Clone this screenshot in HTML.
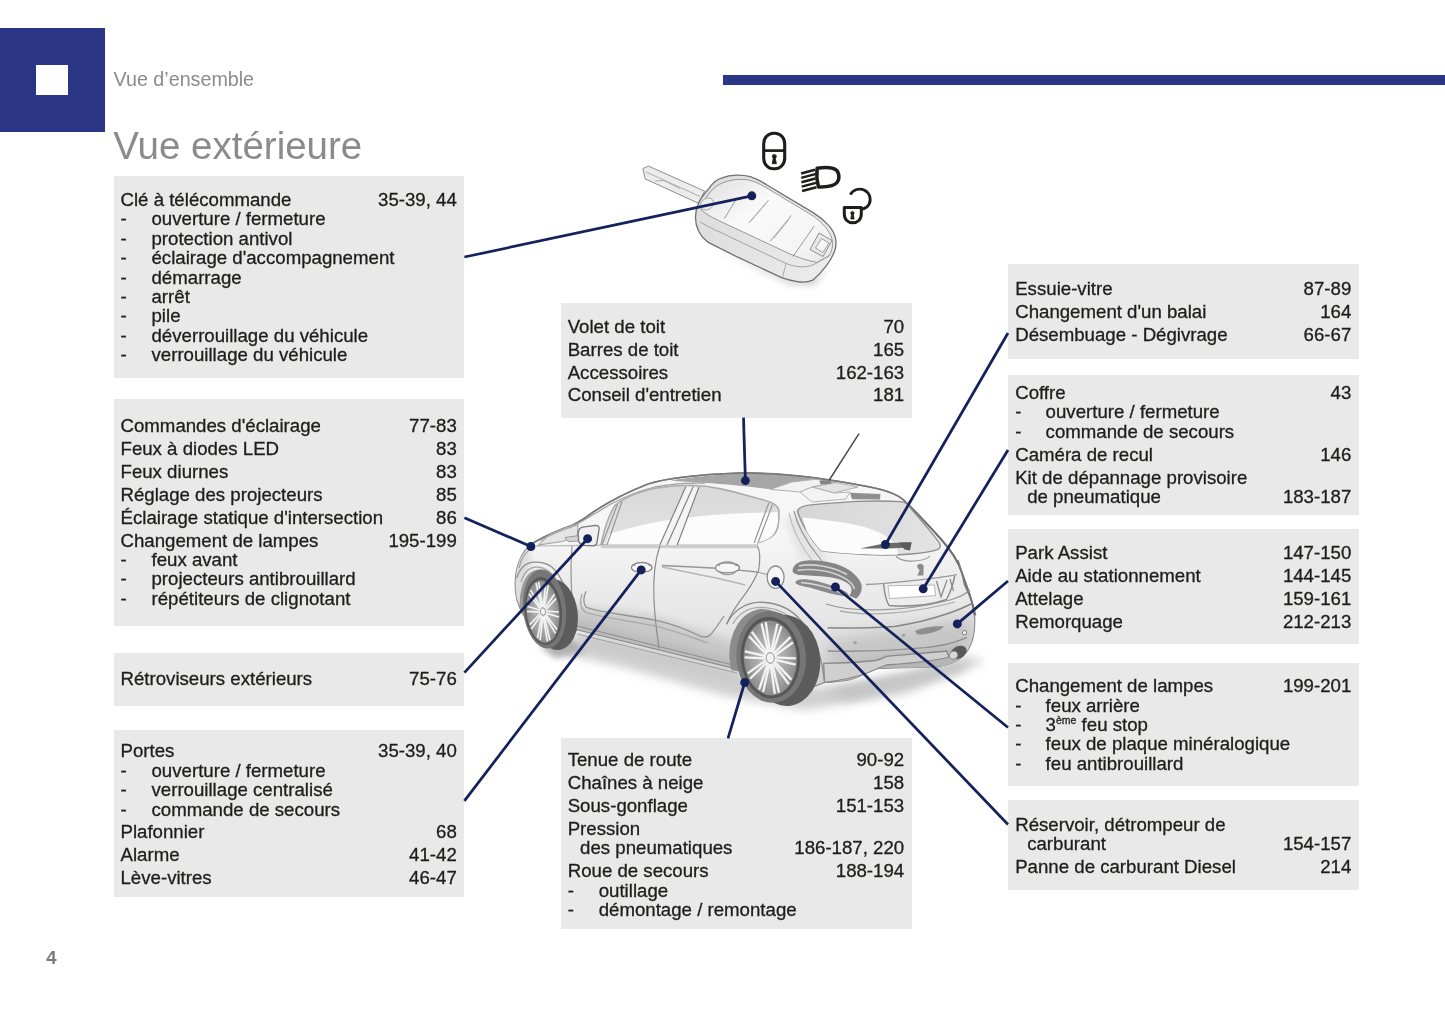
<!DOCTYPE html>
<html lang="fr"><head><meta charset="utf-8"><title>Vue extérieure</title>
<style>
html,body{margin:0;padding:0;background:#fff;}
body{width:1445px;height:1026px;position:relative;overflow:hidden;font-family:"Liberation Sans",sans-serif;}
.b{position:absolute;background:#e9e9e9;}
.t{position:absolute;font-size:18.65px;line-height:20.0px;height:20.0px;color:#1d1d1b;white-space:nowrap;-webkit-text-stroke:0.3px #1d1d1b;}
.r{text-align:right;}
sup{font-size:10.5px;line-height:0;vertical-align:baseline;position:relative;top:-6.5px;}
#art{position:absolute;left:0;top:0;}
#pg{position:absolute;left:0;top:0;width:1445px;height:1026px;will-change:transform;}
</style></head><body><div id="pg">
<div style="position:absolute;left:0;top:27.6px;width:104.7px;height:104.8px;background:#2b3786;"></div>
<div style="position:absolute;left:36px;top:64.5px;width:32.4px;height:30.5px;background:#fff;"></div>
<div style="position:absolute;left:722.6px;top:74.8px;width:723px;height:10.3px;background:#2b3786;"></div>
<div style="position:absolute;left:113.6px;top:66.9px;font-size:19.7px;line-height:24px;color:#8b8b8b;white-space:nowrap;">Vue d’ensemble</div>
<div style="position:absolute;left:113.3px;top:123.2px;font-size:38.5px;line-height:46px;color:#8b8b8b;white-space:nowrap;">Vue extérieure</div>
<div style="position:absolute;left:46.3px;top:946.5px;font-size:18.5px;line-height:22px;font-weight:bold;color:#7a7a7a;">4</div>
<div class="b" style="left:113.8px;top:176.3px;width:350.6px;height:201.9px"></div>
<div class="b" style="left:113.8px;top:399.2px;width:350.6px;height:226.7px"></div>
<div class="b" style="left:113.8px;top:652.8px;width:350.6px;height:53.0px"></div>
<div class="b" style="left:113.8px;top:729.6px;width:350.6px;height:167.3px"></div>
<div class="b" style="left:561.0px;top:303.3px;width:350.5px;height:114.3px"></div>
<div class="b" style="left:561.0px;top:738.3px;width:350.5px;height:190.7px"></div>
<div class="b" style="left:1008.0px;top:264.4px;width:350.5px;height:94.7px"></div>
<div class="b" style="left:1008.0px;top:375.1px;width:350.5px;height:139.5px"></div>
<div class="b" style="left:1008.0px;top:529.3px;width:350.5px;height:114.4px"></div>
<div class="b" style="left:1008.0px;top:662.6px;width:350.5px;height:123.3px"></div>
<div class="b" style="left:1008.0px;top:800.4px;width:350.5px;height:89.2px"></div>
<div class="t" style="left:120.5px;top:189.99px">Clé à télécommande</div>
<div class="t r" style="left:256.8px;width:200px;top:189.99px">35-39, 44</div>
<div class="t" style="left:120.5px;top:209.39px">-</div>
<div class="t" style="left:151.5px;top:209.39px">ouverture / fermeture</div>
<div class="t" style="left:120.5px;top:228.79px">-</div>
<div class="t" style="left:151.5px;top:228.79px">protection antivol</div>
<div class="t" style="left:120.5px;top:248.19px">-</div>
<div class="t" style="left:151.5px;top:248.19px">éclairage d'accompagnement</div>
<div class="t" style="left:120.5px;top:267.59px">-</div>
<div class="t" style="left:151.5px;top:267.59px">démarrage</div>
<div class="t" style="left:120.5px;top:286.99px">-</div>
<div class="t" style="left:151.5px;top:286.99px">arrêt</div>
<div class="t" style="left:120.5px;top:306.39px">-</div>
<div class="t" style="left:151.5px;top:306.39px">pile</div>
<div class="t" style="left:120.5px;top:325.79px">-</div>
<div class="t" style="left:151.5px;top:325.79px">déverrouillage du véhicule</div>
<div class="t" style="left:120.5px;top:345.19px">-</div>
<div class="t" style="left:151.5px;top:345.19px">verrouillage du véhicule</div>
<div class="t" style="left:120.5px;top:416.19px">Commandes d'éclairage</div>
<div class="t r" style="left:256.8px;width:200px;top:416.19px">77-83</div>
<div class="t" style="left:120.5px;top:439.09px">Feux à diodes LED</div>
<div class="t r" style="left:256.8px;width:200px;top:439.09px">83</div>
<div class="t" style="left:120.5px;top:461.99px">Feux diurnes</div>
<div class="t r" style="left:256.8px;width:200px;top:461.99px">83</div>
<div class="t" style="left:120.5px;top:484.89px">Réglage des projecteurs</div>
<div class="t r" style="left:256.8px;width:200px;top:484.89px">85</div>
<div class="t" style="left:120.5px;top:507.79px">Éclairage statique d'intersection</div>
<div class="t r" style="left:256.8px;width:200px;top:507.79px">86</div>
<div class="t" style="left:120.5px;top:530.69px">Changement de lampes</div>
<div class="t r" style="left:256.8px;width:200px;top:530.69px">195-199</div>
<div class="t" style="left:120.5px;top:550.09px">-</div>
<div class="t" style="left:151.5px;top:550.09px">feux avant</div>
<div class="t" style="left:120.5px;top:569.49px">-</div>
<div class="t" style="left:151.5px;top:569.49px">projecteurs antibrouillard</div>
<div class="t" style="left:120.5px;top:588.89px">-</div>
<div class="t" style="left:151.5px;top:588.89px">répétiteurs de clignotant</div>
<div class="t" style="left:120.5px;top:668.99px">Rétroviseurs extérieurs</div>
<div class="t r" style="left:256.8px;width:200px;top:668.99px">75-76</div>
<div class="t" style="left:120.5px;top:741.09px">Portes</div>
<div class="t r" style="left:256.8px;width:200px;top:741.09px">35-39, 40</div>
<div class="t" style="left:120.5px;top:760.59px">-</div>
<div class="t" style="left:151.5px;top:760.59px">ouverture / fermeture</div>
<div class="t" style="left:120.5px;top:780.09px">-</div>
<div class="t" style="left:151.5px;top:780.09px">verrouillage centralisé</div>
<div class="t" style="left:120.5px;top:799.59px">-</div>
<div class="t" style="left:151.5px;top:799.59px">commande de secours</div>
<div class="t" style="left:120.5px;top:822.39px">Plafonnier</div>
<div class="t r" style="left:256.8px;width:200px;top:822.39px">68</div>
<div class="t" style="left:120.5px;top:845.29px">Alarme</div>
<div class="t r" style="left:256.8px;width:200px;top:845.29px">41-42</div>
<div class="t" style="left:120.5px;top:868.19px">Lève-vitres</div>
<div class="t r" style="left:256.8px;width:200px;top:868.19px">46-47</div>
<div class="t" style="left:567.7px;top:316.79px">Volet de toit</div>
<div class="t r" style="left:704.2px;width:200px;top:316.79px">70</div>
<div class="t" style="left:567.7px;top:339.69px">Barres de toit</div>
<div class="t r" style="left:704.2px;width:200px;top:339.69px">165</div>
<div class="t" style="left:567.7px;top:362.59px">Accessoires</div>
<div class="t r" style="left:704.2px;width:200px;top:362.59px">162-163</div>
<div class="t" style="left:567.7px;top:385.49px">Conseil d'entretien</div>
<div class="t r" style="left:704.2px;width:200px;top:385.49px">181</div>
<div class="t" style="left:567.7px;top:750.39px">Tenue de route</div>
<div class="t r" style="left:704.2px;width:200px;top:750.39px">90-92</div>
<div class="t" style="left:567.7px;top:773.19px">Chaînes à neige</div>
<div class="t r" style="left:704.2px;width:200px;top:773.19px">158</div>
<div class="t" style="left:567.7px;top:795.99px">Sous-gonflage</div>
<div class="t r" style="left:704.2px;width:200px;top:795.99px">151-153</div>
<div class="t" style="left:567.7px;top:818.59px">Pression</div>
<div class="t" style="left:580.1px;top:838.19px">des pneumatiques</div>
<div class="t r" style="left:704.2px;width:200px;top:838.19px">186-187, 220</div>
<div class="t" style="left:567.7px;top:861.19px">Roue de secours</div>
<div class="t r" style="left:704.2px;width:200px;top:861.19px">188-194</div>
<div class="t" style="left:567.7px;top:880.69px">-</div>
<div class="t" style="left:598.7px;top:880.69px">outillage</div>
<div class="t" style="left:567.7px;top:900.19px">-</div>
<div class="t" style="left:598.7px;top:900.19px">démontage / remontage</div>
<div class="t" style="left:1015.2px;top:279.29px">Essuie-vitre</div>
<div class="t r" style="left:1151.3px;width:200px;top:279.29px">87-89</div>
<div class="t" style="left:1015.2px;top:302.29px">Changement d'un balai</div>
<div class="t r" style="left:1151.3px;width:200px;top:302.29px">164</div>
<div class="t" style="left:1015.2px;top:325.29px">Désembuage - Dégivrage</div>
<div class="t r" style="left:1151.3px;width:200px;top:325.29px">66-67</div>
<div class="t" style="left:1015.2px;top:382.79px">Coffre</div>
<div class="t r" style="left:1151.3px;width:200px;top:382.79px">43</div>
<div class="t" style="left:1015.2px;top:402.49px">-</div>
<div class="t" style="left:1045.6px;top:402.49px">ouverture / fermeture</div>
<div class="t" style="left:1015.2px;top:422.19px">-</div>
<div class="t" style="left:1045.6px;top:422.19px">commande de secours</div>
<div class="t" style="left:1015.2px;top:444.89px">Caméra de recul</div>
<div class="t r" style="left:1151.3px;width:200px;top:444.89px">146</div>
<div class="t" style="left:1015.2px;top:467.59px">Kit de dépannage provisoire</div>
<div class="t" style="left:1027.2px;top:486.99px">de pneumatique</div>
<div class="t r" style="left:1151.3px;width:200px;top:486.99px">183-187</div>
<div class="t" style="left:1015.2px;top:543.09px">Park Assist</div>
<div class="t r" style="left:1151.3px;width:200px;top:543.09px">147-150</div>
<div class="t" style="left:1015.2px;top:565.99px">Aide au stationnement</div>
<div class="t r" style="left:1151.3px;width:200px;top:565.99px">144-145</div>
<div class="t" style="left:1015.2px;top:588.89px">Attelage</div>
<div class="t r" style="left:1151.3px;width:200px;top:588.89px">159-161</div>
<div class="t" style="left:1015.2px;top:611.79px">Remorquage</div>
<div class="t r" style="left:1151.3px;width:200px;top:611.79px">212-213</div>
<div class="t" style="left:1015.2px;top:676.39px">Changement de lampes</div>
<div class="t r" style="left:1151.3px;width:200px;top:676.39px">199-201</div>
<div class="t" style="left:1015.2px;top:695.69px">-</div>
<div class="t" style="left:1045.6px;top:695.69px">feux arrière</div>
<div class="t" style="left:1015.2px;top:714.99px">-</div>
<div class="t" style="left:1045.6px;top:714.99px">3<sup>ème</sup> feu stop</div>
<div class="t" style="left:1015.2px;top:734.29px">-</div>
<div class="t" style="left:1045.6px;top:734.29px">feux de plaque minéralogique</div>
<div class="t" style="left:1015.2px;top:753.59px">-</div>
<div class="t" style="left:1045.6px;top:753.59px">feu antibrouillard</div>
<div class="t" style="left:1015.2px;top:814.59px">Réservoir, détrompeur de</div>
<div class="t" style="left:1027.2px;top:833.89px">carburant</div>
<div class="t r" style="left:1151.3px;width:200px;top:833.89px">154-157</div>
<div class="t" style="left:1015.2px;top:856.79px">Panne de carburant Diesel</div>
<div class="t r" style="left:1151.3px;width:200px;top:856.79px">214</div>
<svg id="art" width="1445" height="1026" viewBox="0 0 1445 1026">
<defs>
<filter id="bl8" x="-30%" y="-80%" width="160%" height="260%"><feGaussianBlur stdDeviation="8"/></filter>
<filter id="bl6" x="-30%" y="-80%" width="160%" height="260%"><feGaussianBlur stdDeviation="5"/></filter>
<filter id="bl3" x="-20%" y="-50%" width="140%" height="200%"><feGaussianBlur stdDeviation="3"/></filter>
<filter id="bl1" x="-20%" y="-20%" width="140%" height="140%"><feGaussianBlur stdDeviation="1.2"/></filter>
<linearGradient id="gBody" x1="0" y1="473" x2="0" y2="690" gradientUnits="userSpaceOnUse">
<stop offset="0" stop-color="#f6f6f6"/><stop offset="0.33" stop-color="#f5f5f5"/><stop offset="0.45" stop-color="#eeeeee"/><stop offset="0.65" stop-color="#e7e7e7"/><stop offset="0.85" stop-color="#dedede"/><stop offset="1" stop-color="#d6d6d6"/>
</linearGradient>
<linearGradient id="gWin" x1="0" y1="486" x2="0" y2="546" gradientUnits="userSpaceOnUse">
<stop offset="0" stop-color="#d9d9d9"/><stop offset="1" stop-color="#e2e2e2"/>
</linearGradient>
<linearGradient id="gRear" x1="800" y1="500" x2="940" y2="560" gradientUnits="userSpaceOnUse">
<stop offset="0" stop-color="#d6d6d6"/><stop offset="1" stop-color="#e4e4e4"/>
</linearGradient>
<radialGradient id="gRim" cx="0.5" cy="0.5" r="0.5"><stop offset="0" stop-color="#c8c8c8"/><stop offset="0.7" stop-color="#a2a2a2"/><stop offset="1" stop-color="#8a8a8a"/></radialGradient>
<clipPath id="cb"><path d="M517,600 C514,588 515,572 519,562 C522,553 527,547 533,543 C545,536 560,529.5 572,525.3 C580,522 588,516 594,511.5 C610,501 630,491 648,484 C665,478.5 700,474.5 740,473 C780,472.5 830,479 870,487 C885,490 900,495 906,502.5 C915,511 930,527 940,538 C950,549 958,560 962,573 C967,588 973,600 974.5,615 C975.5,630 973,642 968,650 C963,658 955,664 938,666.5 C915,668 890,667 877,668.5 C866,672 858,678 850,679.5 C840,681.5 832,682 824.6,682.3 L800,692 L745,672 L736,668.5 L577,629.5 L560,644 C535,637 522,616 517,600 Z"/></clipPath>
</defs>
<g id="car">
<!-- ground shadow -->
<path d="M540,640 L600,640 L740,674 L830,690 L900,676 L968,656 L985,662 L905,694 L805,710 L725,696 L625,668 L555,652 Z" fill="#d0d0d0" filter="url(#bl6)"/>
<path d="M572,630 L740,670 L742,682 L640,658 L580,644 Z" fill="#c6c6c6" filter="url(#bl6)"/>
<path d="M815,690 L962,662 L965,670 L850,700 Z" fill="#c4c4c4" filter="url(#bl6)"/>
<path d="M540,646 L575,640 L585,652 L555,658 Z" fill="#b0b0b0" filter="url(#bl3)"/>
<!-- body -->
<path id="bodyp" d="M517,600 C514,588 515,572 519,562 C522,553 527,547 533,543 C545,536 560,529.5 572,525.3 C580,522 588,516 594,511.5 C610,501 630,491 648,484 C665,478.5 700,474.5 740,473 C780,472.5 830,479 870,487 C885,490 900,495 906,502.5 C915,511 930,527 940,538 C950,549 958,560 962,573 C967,588 973,600 974.5,615 C975.5,630 973,642 968,650 C963,658 955,664 938,666.5 C915,668 890,667 877,668.5 C866,672 858,678 850,679.5 C840,681.5 832,682 824.6,682.3 L800,692 L745,672 L736,668.5 L577,629.5 L560,644 C535,637 522,616 517,600 Z" fill="url(#gBody)" stroke="#808080" stroke-width="1.28"/>
<g clip-path="url(#cb)">
<!-- side lower shading -->
<path d="M570,606 L650,616 L740,644 L745,680 L570,640 Z" fill="#c8c8c8" filter="url(#bl6)"/>
<path d="M576,619 L738,659 L738,672 L576,632 Z" fill="#bcbcbc" filter="url(#bl3)"/>
<!-- rear bumper shading -->
<path d="M830,640 L975,615 L975,670 L820,690 Z" fill="#c6c6c6" filter="url(#bl8)"/>
<path d="M850,662 L960,646 L965,668 L850,682 Z" fill="#b5b5b5" filter="url(#bl3)"/>
<!-- rear quarter subtle -->
<path d="M785,520 L800,560 L830,562 L800,512 Z" fill="#e4e4e4" filter="url(#bl3)"/>
<!-- front -->
<path d="M514,560 L530,548 L528,600 L516,606 Z" fill="#dcdcdc" filter="url(#bl3)"/>
</g>
<!-- roof dark panel -->
<path d="M671,480.4 C690,477 715,474.6 742,473.4 C768,473 795,475.6 816,479.2 L792,482 L770.5,489.3 C748,486 720,483.6 700,482.4 C690,482 680,481.4 671,480.4 Z" fill="#a6a6a6"/>
<!-- roof patches -->
<path d="M792,482 L816,479.2 L836,482.6 L812,487 L800,492 L770.5,489.3 Z" fill="#f2f2f2" stroke="#a8a8a8" stroke-width="0.9"/>
<path d="M812,487 L836,482.6 L858,487 L834,493 Z" fill="#e3e3e3" stroke="#a8a8a8" stroke-width="0.9"/>
<path d="M800,492 L812,487 L834,493 L850,492 L846,499 L812,502 Z" fill="#f3f3f3" stroke="#adadad" stroke-width="0.9"/>
<path d="M850,492.8 L880.5,494 L880,499.6 L852,499.2 Z" fill="#8f8f8f"/>
<!-- roofline dark -->
<path d="M533,543 C545,536 560,529.5 572,525.3 C580,522 588,516 594,511.5 C610,501 630,491 648,484 C665,478.5 700,474.5 740,473 C780,472.5 830,479 870,487 C885,490 900,495 906,502.5" stroke="#787878" stroke-width="1.7" fill="none"/>
<path d="M906,502.5 C915,511 930,527 940,538 C950,549 958,560 962,573 C967,588 973,600 974.5,615" stroke="#707070" stroke-width="2" fill="none"/>
<path d="M578,523.4 C590,517 600,510.5 610,504.5 C625,496.5 640,490.5 655,487 C670,484 690,482.6 705,483.2" stroke="#a0a0a0" stroke-width="1.28" fill="none"/>
<!-- glass side -->
<path id="w1" d="M600.9,545 C604,530 609,514 615.4,505 C625,497 640,491.5 655.4,488.2 C668,486 680,485.2 691.7,485.3 C702,485.6 712,487 720.8,488.9 C731,491 741,493.6 749.9,496.2 C758,498.4 766,500.4 771.7,502.7 C777,505.4 779.2,508.6 779,512.2 C779,518 778.6,523.6 777.5,528.1 C776,533 773,536.4 768.8,538.3 C765,540.4 761,541.8 757.2,542.7 L757,545 Z" fill="url(#gWin)" stroke="#adadad" stroke-width="1.6"/>
<path d="M606,544.6 C607,540 608,537 609,534 C622,530 634,526.6 648,523.8 C662,521 676,518.8 691.7,517.2 C706,515.6 720,514.4 735.3,513.6 C748,513 760,512.4 777.5,512.2 C779,520 777,534 768.8,538.3 C765,540.4 761,541.8 757.2,542.7 L757,544.6 Z" fill="#fcfcfc"/>
<!-- beltline -->
<path d="M601,546.6 L757,546.6" stroke="#cdcdcd" stroke-width="3.2" fill="none"/>
<path d="M536,546 C560,545.6 585,545.4 601,545.3" stroke="#bdbdbd" stroke-width="1.4" fill="none"/>
<!-- b pillar -->
<path d="M685.9,487 L659.8,545 L677.2,545 L699,487.4 Z" fill="#f4f4f4"/>
<path d="M685.9,486.5 L659.8,545 M693.2,486.5 L667,545 M699,487 L677.2,545" stroke="#7f7f7f" stroke-width="1.15" fill="none"/>
<path d="M617.6,504 L601.8,545 M622,501.5 L607,545" stroke="#949494" stroke-width="1.15" fill="none"/>
<path d="M768.8,503 C764,516 758,532 754.2,543 M772.4,504.4 C768,517 762,532 758,542.6" stroke="#949494" stroke-width="1.15" fill="none"/>
<!-- door lines -->
<path d="M572,546 C570,570 571,600 576,628" stroke="#909090" stroke-width="1.15" fill="none"/>
<path d="M659.8,546 C655,560 653,580 654,600 C655,620 657,635 659,648.5" stroke="#8a8a8a" stroke-width="1.15" fill="none"/>
<path d="M757.5,546 C760.5,552 760,562 758.7,570 C754,582 747,592 740.6,600.2 C735,608 730,616 726.6,624.3" stroke="#8a8a8a" stroke-width="1.15" fill="none"/>
<!-- character line -->
<path d="M662,565.5 C690,566.5 730,569 757,572" stroke="#969696" stroke-width="1.28" fill="none"/>
<path d="M662,567 C690,573 720,578 745,585" stroke="#b6b6b6" stroke-width="1.54" fill="none"/>
<!-- lower door moulding -->
<path d="M586,591.2 C583,598 583,603 586,607 C592,611 620,614 656.3,620.3 C675,624.5 690,631 700.5,636.3 C706,638 710,636 712.5,632.3 C716,628 720,622 724,616" stroke="#929292" stroke-width="1.28" fill="none"/>
<path d="M582,594 C579.5,602 580.5,609 586,612.5 C600,617 630,621 655,626 C676,631 694,638 708,643" stroke="#a6a6a6" stroke-width="1.28" fill="none"/>
<!-- sill lines -->
<path d="M575,625.5 L733,665 M576,629.5 L736,668.8" stroke="#8f8f8f" stroke-width="1.28" fill="none"/>
<path d="M577,634 L737,673" stroke="#a4a4a4" stroke-width="1.28" fill="none"/>
<!-- door handles -->
<path d="M631.5,567.5 C631.5,564.5 636,562.6 641.5,562.6 C647,562.6 652,564.5 652,567.5 C652,570.5 647,572.4 641.5,572.4 C636,572.4 631.5,570.5 631.5,567.5 Z" fill="#f6f6f6" stroke="#808080" stroke-width="1.15"/>
<path d="M634,566 C636,561 647,561 650,566" stroke="#909090" stroke-width="1.15" fill="none"/>
<path d="M715.5,567.8 C715.5,564.6 720.5,562.8 727,562.8 C733.5,562.8 739.5,564.6 739.5,567.8 C739.5,571 733.5,572.8 727,572.8 C720.5,572.8 715.5,571 715.5,567.8 Z" fill="#f6f6f6" stroke="#808080" stroke-width="1.15"/>
<path d="M718.5,566 C721,560.5 733.5,560.5 736.5,566 M719,571 C722,576 733,576 736,571" stroke="#909090" stroke-width="1.15" fill="none"/>
<!-- mirror -->
<path d="M538.5,545 L549.5,534.5 C560,529.5 570,526 578,523.6 L577.5,536 L562,541.5 Z" fill="#e4e4e4" stroke="#a0a0a0" stroke-width="1.02"/>
<path d="M565,537.5 L579,535.5 L579.5,541 L568,541.5 Z" fill="#d4d4d4" stroke="#909090" stroke-width="0.9"/>
<path d="M578.1,533.2 C578.6,529.6 580,527.6 582.5,527.1 L595.8,525.4 C598.4,525.4 599.4,526.8 599.1,528.8 L596.9,543.2 C596.4,545 595,545.8 593,545.8 L584.7,545.4 C581,544.6 579,543.2 578.6,540.9 Z" fill="#f0f0f0" stroke="#777777" stroke-width="1.3"/>
<!-- hood / front details -->
<path d="M540,540.5 C552,533.5 566,528.5 578,524.6" stroke="#a4a4a4" stroke-width="1.28" fill="none"/>
<path d="M519,568 C521,558 526,551 534,546.5" stroke="#a0a0a0" stroke-width="1.28" fill="none"/>
<!-- rear window -->
<path id="rw" d="M797.5,511 C799,506.6 805,505.2 813.6,504.6 C830,503.2 845,502 857.2,501.4 C872,500.8 888,500.8 900.8,501.6 C905,502 907,503.4 908.7,506 C915,513 923,522.6 929,529.6 C933,534.4 936.6,539 939.2,542.6 C941,545.6 940.6,547.6 938,549.4 C926,553.6 900,555.6 875,554.8 C850,554 832,552.4 821,550.6 C815,544 810,537 806.6,531 C802.6,524 799,517 797.5,511 Z" fill="url(#gRear)" stroke="#8e8e8e" stroke-width="1.4"/>
<path d="M802.8,517.6 C812,518.6 820,519.6 828,520.6 C838,521.8 848,523.2 857.2,525.2 C866,527.2 873,529.6 879,532.4 C886,535.6 892,540 896,545.2 L898,554.6 C888,555 880,555 875,554.8 C850,554 832,552.4 821,550.6 C815,544 810,537 806.6,531 C805,526.6 803.6,522 802.8,517.6 Z" fill="#fcfcfc"/>
<!-- hatch left edge lines -->
<path d="M794,511 C797,524 806,541 818,556 C823,562 826,567 826.5,572" stroke="#969696" stroke-width="1.15" fill="none"/>
<path d="M789,513 C792,527 800,545 812,560" stroke="#b8b8b8" stroke-width="1.15" fill="none"/>
<!-- wiper -->
<path d="M860,548.6 L886,543 L911.5,542.4 L910.5,547.6 L888,548.6 Z" fill="#6a6a6a"/>
<path d="M899,542.6 L911.5,542.2 L910,550.4 L904.5,549.6 Z" fill="#5a5a5a"/>
<!-- hatch handle recess -->
<path d="M896,556.5 C900,560 906,561.5 914,561 C922,560.5 928,558.5 930,556" stroke="#969696" stroke-width="1.15" fill="none"/>
<!-- tail lamp -->
<path d="M792.5,570.8 C793,564 800,560.4 807.7,560.4 C818,560 828,561.8 835.4,563.8 C843,566.4 849,569.6 852.7,572.8 C858,577.6 861.4,582 861.7,586 C862,591.4 860,596 856.1,598.4 L849.2,595.7 C852,592 852.4,588.6 850,585.4 C846,581 838,578.4 828,577 C818,575.6 806,575.6 799,575 C795,574.4 792.7,573 792.5,570.8 Z" fill="#858585"/>
<path d="M799,565.8 C812,563.4 832,565.8 847,574.6" stroke="#d4d4d4" stroke-width="1.7" fill="none"/>
<path d="M797.5,570.4 C812,568.2 830,570.4 843,577.2 C849,580.4 853.4,584.4 854.6,589" stroke="#d0d0d0" stroke-width="1.6" fill="none"/>
<path d="M795.2,582.6 C796,579.6 801,578.6 808,579.6 C820,581.4 836,586 847,592.6 L849.4,596.2 C840,596.8 826,592.4 814.6,589 C806,586.6 797,586 795.2,582.6 Z" fill="#8a8a8a"/>
<path d="M801,582.6 C814,583.6 830,588 843,593.4" stroke="#dcdcdc" stroke-width="1.5" fill="none"/>
<!-- fuel cap -->
<ellipse cx="775.6" cy="577.2" rx="8.5" ry="11.2" fill="#f6f6f6" stroke="#8c8c8c" stroke-width="1.28"/>
<path d="M757,572 L767,574.5" stroke="#969696" stroke-width="1.15"/>
<!-- plate -->
<path d="M883.7,584 C884.5,594 886,601 889.2,605.5 C910,607 932,604.5 946.5,599.5 C950,593 953,585 954.7,576" stroke="#8a8a8a" stroke-width="1.41" fill="#ededed"/>
<path d="M888,585.8 L934.5,585 L935.5,595.6 L889.5,598.6 Z" fill="#ffffff" stroke="#a4a4a4" stroke-width="0.77"/>
<path d="M936.5,581 L941,597 L947,580 M950,579 L953.5,591" stroke="#8a8a8a" stroke-width="1.28" fill="none"/>
<path d="M866,584.5 C876,584 884,583.6 892,582.6 C915,580.6 940,578 957,574.6" stroke="#989898" stroke-width="1.28" fill="none"/>
<!-- logo -->
<path d="M917,566.5 C917.4,563 922.6,562.6 923.6,566 L923.4,575.4 L917.2,575.6 L919.6,570.6 Z" fill="#8a8a8a"/>
<!-- bumper details -->
<path d="M826,604 C850,612 900,613 950,600 C960,597 966,594 970,590" stroke="#969696" stroke-width="1.28" fill="none"/>
<path d="M840,611 C870,617 915,613 955,602" stroke="#acacac" stroke-width="1.28" fill="none"/>
<path d="M827.7,627.8 C850,628.6 875,627.6 894.6,626.4 C915,623.6 932,619 946.5,614.1 C957,610.4 966,606.6 972.4,603.2" stroke="#868686" stroke-width="1.54" fill="none"/>
<path d="M827.7,651 C860,651.6 900,650 925,647.6 C935,646.4 942,645.4 946.5,644.2 C955,642 962,639.6 967,637.3" stroke="#909090" stroke-width="1.41" fill="none"/>
<path d="M915,631 C922,627.6 936,625.6 943.7,626.4 C941,631 928,634.6 917.5,634.6 Z" fill="#8e8e8e"/>
<circle cx="855" cy="642.8" r="1.8" fill="#a0a0a0"/><circle cx="903.5" cy="635.3" r="1.7" fill="#a0a0a0"/>
<circle cx="964.5" cy="632.6" r="2.1" fill="#f6f6f6" stroke="#8c8c8c" stroke-width="1.02"/>
<!-- diffuser -->
<path d="M823.6,663.3 C845,663 862,662 875.5,660.5 C880,659.6 883,658.2 886.4,656.4 C905,654.6 928,653 946.5,651 L949,657 C930,662 905,663.6 886,665 C880,667 874,670.4 867.3,673 C855,677.6 840,680.4 824.6,682.3 Z" fill="#cfcfcf" stroke="#8a8a8a" stroke-width="1.28"/>
<!-- exhaust -->
<ellipse cx="958.5" cy="652.4" rx="8.6" ry="6" fill="#5a5a5a" transform="rotate(-28 958.5 652.4)"/>
<ellipse cx="953.6" cy="655.2" rx="4.4" ry="4" fill="#d8d8d8" stroke="#7c7c7c" stroke-width="0.8" transform="rotate(-28 953.6 655.2)"/>
<!-- hatch/bumper separation right -->
<path d="M958,560 C961,568 963,576 964.2,584.1 C969,594 973.5,604 975.8,615.5" stroke="#7a7a7a" stroke-width="1.28" fill="none"/>
<!-- antenna -->
<path d="M828,482 L859,433.6" stroke="#4a4a4a" stroke-width="1.5" fill="none"/>
<path d="M819.4,480.6 L831,480.2 L831.5,483.8 L820.5,484.4 Z" fill="#868686"/>
<!-- rear wheel arch -->
<path d="M726.6,624.3 C732,612 744,602.4 760.7,602.2 C778,602.6 792,610 800.8,620.3 C810,631 815,642 818.9,652.4 C821,660 822,665 822.9,670.4 L824.6,682.3" stroke="#8c8c8c" stroke-width="1.28" fill="none"/>
<path d="M733,624 C738,614 748,607.4 761,607.4 C776,607.8 789,614.4 797,624 C805,634 810,645 813,656" stroke="#a8a8a8" stroke-width="1.28" fill="none"/>
<ellipse cx="764.5" cy="656" rx="35" ry="47.6" fill="#8c8c8c" clip-path="url(#cb)" transform="rotate(-4 771 657)"/>
<!-- rear wheel -->
<g transform="rotate(-4 771 657)">
<ellipse cx="785" cy="661.4" rx="35" ry="45.6" fill="#5c5c5c"/>
<ellipse cx="771.2" cy="656.9" rx="34.8" ry="46" fill="#767676"/>
<ellipse cx="770.4" cy="657.6" rx="29.6" ry="40.8" fill="#565656"/>
<ellipse cx="770.2" cy="657.9" rx="26.6" ry="37.6" fill="url(#gRim)"/>
<g stroke="#f3f3f3" stroke-width="2.3" stroke-linecap="butt">
<line x1="774.5" y1="657.7" x2="795.7" y2="660.2"/>
<line x1="774.2" y1="659.9" x2="795.0" y2="666.3"/>
<line x1="773.7" y1="661.3" x2="789.8" y2="681.0"/>
<line x1="772.6" y1="662.8" x2="786.8" y2="685.3"/>
<line x1="771.7" y1="663.5" x2="776.5" y2="692.9"/>
<line x1="770.1" y1="663.9" x2="772.2" y2="693.9"/>
<line x1="769.0" y1="663.7" x2="760.7" y2="691.4"/>
<line x1="767.6" y1="662.7" x2="756.9" y2="688.7"/>
<line x1="766.9" y1="661.6" x2="748.6" y2="677.2"/>
<line x1="766.1" y1="659.6" x2="746.6" y2="671.7"/>
<line x1="765.9" y1="658.1" x2="744.7" y2="655.6"/>
<line x1="766.2" y1="655.9" x2="745.4" y2="649.5"/>
<line x1="766.7" y1="654.5" x2="750.6" y2="634.8"/>
<line x1="767.8" y1="653.0" x2="753.6" y2="630.5"/>
<line x1="768.7" y1="652.3" x2="763.9" y2="622.9"/>
<line x1="770.3" y1="651.9" x2="768.2" y2="621.9"/>
<line x1="771.4" y1="652.1" x2="779.7" y2="624.4"/>
<line x1="772.8" y1="653.1" x2="783.5" y2="627.1"/>
<line x1="773.5" y1="654.2" x2="791.8" y2="638.6"/>
<line x1="774.3" y1="656.2" x2="793.8" y2="644.1"/>
</g>
<ellipse cx="770.2" cy="657.9" rx="4" ry="5.2" fill="#f4f4f4" stroke="#8a8a8a" stroke-width="0.77"/>
</g>
<!-- front wheel arch -->
<path d="M516.7,578 C520,568 526,562.5 534.2,562.2 C543,562 548,564 551.8,567 C558,572 562,580 565.8,589 C569,597 571,603 572.8,610 C574,616 574.6,621 575.2,626.5" stroke="#8c8c8c" stroke-width="1.28" fill="none"/>
<path d="M521,582 C524,572 530,567 537,567 C545,567 551,572 556,580 C562,591 567,606 570,621" stroke="#aaaaaa" stroke-width="1.28" fill="none"/>
<ellipse cx="541.5" cy="608.5" rx="21.6" ry="40" fill="#9a9a9a" clip-path="url(#cb)" transform="rotate(-6 548 609)"/>
<!-- front wheel -->
<g transform="translate(-1,1) rotate(-6 548 609)">
<ellipse cx="556" cy="614.5" rx="22.3" ry="35.5" fill="#5c5c5c"/>
<ellipse cx="545.6" cy="607.8" rx="21.4" ry="39.6" fill="#767676"/>
<ellipse cx="544.2" cy="609.6" rx="18.6" ry="34" fill="#585858"/>
<ellipse cx="543.8" cy="610.2" rx="16.4" ry="31.4" fill="url(#gRim)"/>
<g stroke="#f3f3f3" stroke-width="1.7" stroke-linecap="butt">
<line x1="546.4" y1="610.0" x2="559.5" y2="612.2"/>
<line x1="546.3" y1="611.9" x2="559.1" y2="617.2"/>
<line x1="546.0" y1="613.0" x2="555.9" y2="629.5"/>
<line x1="545.3" y1="614.3" x2="554.0" y2="633.1"/>
<line x1="544.7" y1="614.9" x2="547.7" y2="639.4"/>
<line x1="543.7" y1="615.2" x2="545.0" y2="640.2"/>
<line x1="543.1" y1="615.0" x2="538.0" y2="638.2"/>
<line x1="542.2" y1="614.2" x2="535.6" y2="635.9"/>
<line x1="541.7" y1="613.3" x2="530.5" y2="626.3"/>
<line x1="541.3" y1="611.6" x2="529.3" y2="621.8"/>
<line x1="541.2" y1="610.4" x2="528.1" y2="608.2"/>
<line x1="541.3" y1="608.5" x2="528.5" y2="603.2"/>
<line x1="541.6" y1="607.4" x2="531.7" y2="590.9"/>
<line x1="542.3" y1="606.1" x2="533.6" y2="587.3"/>
<line x1="542.9" y1="605.5" x2="539.9" y2="581.0"/>
<line x1="543.9" y1="605.2" x2="542.6" y2="580.2"/>
<line x1="544.5" y1="605.4" x2="549.6" y2="582.2"/>
<line x1="545.4" y1="606.2" x2="552.0" y2="584.5"/>
<line x1="545.9" y1="607.1" x2="557.1" y2="594.1"/>
<line x1="546.3" y1="608.8" x2="558.3" y2="598.6"/>
</g>
<ellipse cx="543.8" cy="610.2" rx="2.6" ry="3.6" fill="#f4f4f4" stroke="#8a8a8a" stroke-width="0.77"/>
</g>
</g>
<defs>
<linearGradient id="gFob" x1="720" y1="180" x2="800" y2="285" gradientUnits="userSpaceOnUse">
<stop offset="0" stop-color="#e4e4e4"/><stop offset="0.35" stop-color="#fafafa"/><stop offset="0.8" stop-color="#f4f4f4"/><stop offset="1" stop-color="#e6e6e6"/>
</linearGradient>
<linearGradient id="gFobS" x1="700" y1="230" x2="820" y2="285" gradientUnits="userSpaceOnUse">
<stop offset="0" stop-color="#dedede"/><stop offset="1" stop-color="#ececec"/>
</linearGradient>
</defs>
<g id="key">
<!-- shadow -->
<path d="M712,248 L790,285 L814,286 L832,264 L818,276 L790,279 Z" fill="#d6d6d6" filter="url(#bl3)"/>
<!-- blade -->
<path d="M642.9,168.6 L648.3,166 L704.6,191.1 L698.5,203.3 L645.2,178.9 Z" fill="#ececec" stroke="#8c8c8c" stroke-width="1"/>
<path d="M646,172 L700,196.5 M655,181 L664,180.5 L680,188.5" stroke="#a5a5a5" stroke-width=".9" fill="none"/>
<!-- fob outer -->
<path d="M709.2,188.1 C713,182.5 717,179.5 721.4,178.2 C726.5,176 732,175.1 736.6,175.1 C741.5,175 746,175.4 750.3,176.6 C756,178.6 762,181.6 767,185 L812.7,212.4 C818.5,216 823.5,220 827.9,224.6 C831.8,228.8 834.5,233.5 835.5,238.3 C836.3,242.3 836.1,246.5 834.8,250.5 C832.8,256 830,261 826.4,265.7 C822.5,271 818,276 812.7,280.2 C808,282.2 802.5,282.6 797.5,281.7 C792.3,280.8 787,279.6 782.2,277.9 L736.6,256.6 L709.2,242.9 C704.5,239.6 700.7,235.5 698.5,230.7 C696.4,226.3 695.4,221.6 695.5,217 C695.6,212.2 696.6,207.6 698.5,203.3 C701,197.7 705,192.6 709.2,188.1 Z" fill="url(#gFobS)" stroke="#707070" stroke-width="1.3"/>
<!-- top face -->
<path d="M701.5,210.5 C703,201 709,192 716,186.5 C724,180.8 736,178.6 746,179.6 C753,180.6 759,183.5 765,187 L810,214 C819,219.5 827,227 831,236 C833.5,242 833,250 829,256 L817,262.5 C807,260.5 800,258 790,254 L725,223.5 C716,219.5 708,215.5 701.5,210.5 Z" fill="url(#gFob)" stroke="#8e8e8e" stroke-width=".9"/>
<!-- buttons dividers -->
<path d="M736.6,198.7 L724.4,218.5 M768.5,200.2 L748.8,223.1 M791.4,215.5 L770.1,241.4 M814.2,226.1 L792.9,256.6" stroke="#8e8e8e" stroke-width=".9" fill="none"/>
<path d="M765.5,204 L750.5,221.5 M789,219.5 L774,238" stroke="#a8a8a8" stroke-width=".8" fill="none"/>
<!-- lower band line -->
<path d="M700,222 C710,228 720,232 728,236 L786,263.5 C796,267.5 806,268 814,264.5 L830,255" stroke="#9a9a9a" stroke-width=".9" fill="none"/>
<path d="M786,263.5 L782.5,277.5" stroke="#9a9a9a" stroke-width=".8" fill="none"/>
<!-- key ring slot -->
<path d="M819,233 L832,240.5 L823,256.5 L810,249.5 Z" fill="#e9e9e9" stroke="#858585" stroke-width=".9"/>
<path d="M821.5,238.5 L829,243 L823,252.5 L815.5,248 Z" fill="#f6f6f6" stroke="#8a8a8a" stroke-width=".8"/>
<!-- round near blade -->
<ellipse cx="707" cy="204" rx="7" ry="5.5" fill="#efefef" stroke="#a0a0a0" stroke-width=".8" transform="rotate(-35 707 204)"/>
</g>
<g id="icons" fill="none" stroke="#1d1d1b">
<!-- locked -->
<rect x="763.7" y="133.2" width="21" height="35.6" rx="9.8" ry="10.5" stroke-width="3.1"/>
<path d="M763.7,150.6 L784.7,150.6" stroke-width="2.7"/>
<path d="M774.3,154.4 a2,2 0 1 1 -0.01,0 Z M772.2,163.7 L773.4,157.5 L775.2,157.5 L776.4,163.7 Z" fill="#1d1d1b" stroke-width=".8"/>
<!-- headlight -->
<g transform="rotate(-4 828 177)">
<path d="M817.8,167.6 C826,166.8 833,167.5 836.5,170.5 C839.6,173.2 839.8,180.2 836.5,183.2 C833,186.4 826,187 817.8,186.2 C816.6,180 816.6,173.8 817.8,167.6 Z" stroke-width="3.5" stroke-linejoin="round"/>
<path d="M801.4,171.6 L815.6,168.8 M801.2,176 L815.4,173.2 M801.1,180.4 L815.4,177.6 M801.1,184.8 L815.5,182 M801.2,189.2 L815.8,186.4" stroke-width="2.5"/>
</g>
<!-- unlocked -->
<path d="M844.3,207.4 L861.3,207.4 L861.3,214 C861.3,219.5 857.5,222.8 852.8,222.8 C848.1,222.8 844.3,219.5 844.3,214 Z" stroke-width="3" stroke-linejoin="round"/>
<path d="M850.3,194.6 C853,189.5 859.5,187.6 864.6,190.3 C869.8,193 871.6,199.3 869,204.4 C867.4,207.3 864.8,208.6 862.2,209.2" stroke-width="2.8"/>
<path d="M852.4,211.4 a1.7,1.7 0 1 1 -0.01,0 Z M850.7,219 L851.7,214 L853.2,214 L854.2,219 Z" fill="#1d1d1b" stroke-width=".7"/>
</g>
<g stroke="#14215b" stroke-width="2.75" fill="#14215b" stroke-linecap="butt">
<line x1="464.4" y1="257.0" x2="751.8" y2="195.8"/><circle cx="751.8" cy="195.8" r="3.1"/>
<line x1="464.4" y1="517.8" x2="530.9" y2="546.5"/><circle cx="530.9" cy="546.5" r="3.1"/>
<line x1="464.4" y1="672.6" x2="587.6" y2="538.7"/><circle cx="587.6" cy="538.7" r="3.1"/>
<line x1="464.4" y1="800.8" x2="641.2" y2="569.9"/><circle cx="641.2" cy="569.9" r="3.1"/>
<line x1="743.5" y1="417.6" x2="745.4" y2="480.6"/><circle cx="745.4" cy="480.6" r="3.1"/>
<line x1="728.0" y1="738.3" x2="744.7" y2="682.5"/><circle cx="744.7" cy="682.5" r="3.1"/>
<line x1="1008" y1="333.0" x2="885.4" y2="544.5"/><circle cx="885.4" cy="544.5" r="3.1"/>
<line x1="1008" y1="450.0" x2="923.2" y2="588.8"/><circle cx="923.2" cy="588.8" r="3.1"/>
<line x1="1008" y1="581.0" x2="957.3" y2="623.9"/><circle cx="957.3" cy="623.9" r="3.1"/>
<line x1="1008" y1="727.5" x2="835.4" y2="587.0"/><circle cx="835.4" cy="587.0" r="3.1"/>
<line x1="1008" y1="824.5" x2="775.6" y2="581.4"/><circle cx="775.6" cy="581.4" r="3.1"/>
</g>
</svg>
</div></body></html>
